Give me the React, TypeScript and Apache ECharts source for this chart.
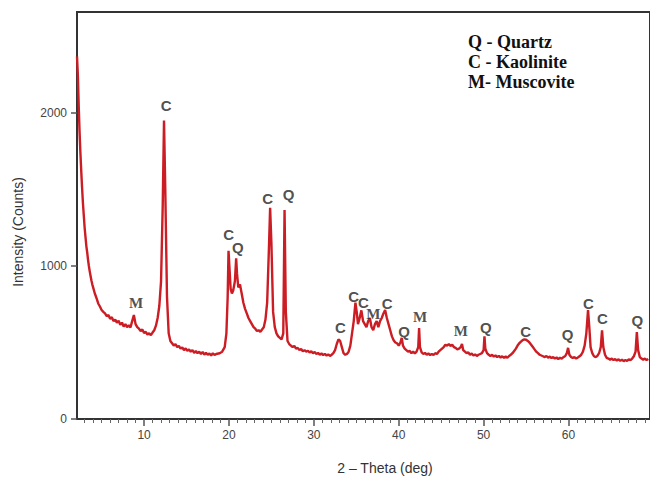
import React, { useEffect, useRef } from 'react';
import * as echarts from 'echarts';

// XRD pattern: [2-theta (deg), intensity (counts)]
const segLowAngle = [
  [2.1, 2370], [2.2, 2250], [2.3, 2050], [2.4, 1880], [2.5, 1740], [2.6, 1620], [2.7, 1510],
  [2.8, 1410], [2.9, 1330], [3.0, 1250], [3.1, 1190], [3.2, 1130], [3.3, 1090], [3.4, 1040],
  [3.5, 1000], [3.6, 965], [3.7, 935], [3.8, 905], [3.9, 880], [4.0, 860], [4.2, 820],
  [4.4, 790], [4.6, 755], [4.8, 735], [5.0, 712], [5.2, 700], [5.4, 690], [5.6, 672],
  [5.8, 680], [6.0, 655], [6.2, 665], [6.4, 640], [6.6, 650], [6.8, 630], [7.0, 642],
  [7.2, 615], [7.4, 630], [7.6, 605], [7.8, 620], [8.0, 600], [8.2, 612], [8.4, 598],
  [8.6, 640], [8.8, 680], [9.0, 620], [9.2, 600], [9.4, 590], [9.6, 575], [9.8, 585],
  [10.0, 562], [10.2, 570], [10.4, 552], [10.6, 560], [10.8, 548], [11.0, 565], [11.2, 580],
  [11.4, 610], [11.6, 660], [11.8, 740], [12.0, 900], [12.2, 1400], [12.35, 1950],
  [12.5, 1500], [12.7, 800], [12.9, 560],
];
const segMidAngle = [
  [13.1, 510], [13.3, 495], [13.5, 480], [13.7, 490], [13.9, 470], [14.1, 478], [14.3, 460],
  [14.5, 468], [14.7, 450], [14.9, 462], [15.1, 445], [15.3, 455], [15.5, 440], [15.7, 450],
  [15.9, 432], [16.1, 445], [16.3, 430], [16.5, 440], [16.7, 425], [16.9, 438], [17.1, 420],
  [17.3, 432], [17.5, 420], [17.7, 428], [17.9, 415], [18.1, 430], [18.3, 418], [18.5, 425],
  [18.9, 430], [19.2, 440], [19.5, 470], [19.7, 560], [19.85, 800], [19.95, 1100],
  [20.05, 1000], [20.2, 850], [20.35, 820], [20.5, 840], [20.7, 900], [20.85, 1050],
  [20.95, 950], [21.1, 860], [21.3, 880], [21.5, 820], [21.7, 760], [21.9, 720], [22.1, 690],
  [22.3, 660], [22.5, 640], [22.7, 620], [22.9, 600], [23.1, 590], [23.3, 575], [23.5, 580],
  [23.7, 570], [23.9, 585], [24.1, 600], [24.3, 650], [24.5, 760], [24.7, 1100],
  [24.85, 1380], [25.0, 1150], [25.2, 700], [25.4, 600], [25.6, 560], [25.8, 540],
  [26.0, 530], [26.2, 520], [26.4, 560], [26.55, 1366], [26.7, 700], [26.9, 510],
];
const segHighAngle = [
  [27.1, 490], [27.3, 480], [27.5, 470], [27.7, 478], [27.9, 460], [28.1, 465], [28.3, 450],
  [28.5, 458], [28.7, 442], [28.9, 450], [29.1, 440], [29.3, 446], [29.5, 435], [29.7, 442],
  [29.9, 430], [30.1, 438], [30.3, 425], [30.5, 432], [30.7, 420], [30.9, 428], [31.1, 418],
  [31.3, 425], [31.5, 415], [31.7, 422], [31.9, 412], [32.1, 420], [32.3, 430], [32.5, 450],
  [32.7, 490], [32.9, 520], [33.1, 510], [33.3, 470], [33.5, 430], [33.7, 420], [33.9, 425],
  [34.1, 440], [34.3, 480], [34.5, 560], [34.7, 640], [34.9, 760], [35.05, 700], [35.2, 620],
  [35.4, 660], [35.6, 710], [35.8, 640], [36.0, 620], [36.2, 600], [36.4, 640], [36.6, 660],
  [36.8, 600], [37.0, 580], [37.2, 620], [37.4, 640], [37.6, 600], [37.8, 640], [38.0, 660],
  [38.2, 690], [38.4, 712], [38.6, 660], [38.8, 620], [39.0, 580], [39.2, 540], [39.4, 515],
  [39.6, 500], [39.8, 495], [40.0, 480], [40.2, 500], [40.35, 530], [40.5, 480], [40.7, 460],
  [40.9, 450], [41.1, 440], [41.3, 445], [41.5, 430], [41.7, 440], [41.9, 428], [42.1, 440],
  [42.3, 470], [42.4, 595], [42.5, 470], [42.7, 435], [42.9, 425], [43.1, 432], [43.3, 420],
  [43.5, 428], [43.7, 418], [43.9, 425], [44.1, 418], [44.3, 430], [44.5, 425], [44.7, 440],
  [44.9, 450], [45.1, 460], [45.3, 470], [45.5, 485], [45.7, 480], [45.9, 490], [46.1, 478],
  [46.3, 485], [46.5, 470], [46.7, 465], [46.9, 455], [47.1, 460], [47.3, 470], [47.45, 490],
  [47.6, 450], [47.8, 440], [48.0, 430],
];
const segWideAngle = [
  [48.2, 435], [48.4, 420], [48.6, 428], [48.8, 415], [49.0, 422], [49.2, 412], [49.4, 420],
  [49.6, 425], [49.8, 430], [50.0, 450], [50.1, 540], [50.2, 460], [50.4, 430], [50.6, 420],
  [50.8, 412], [51.0, 420], [51.2, 408], [51.4, 415], [51.6, 405], [51.8, 412], [52.0, 402],
  [52.2, 410], [52.4, 400], [52.6, 408], [52.8, 400], [53.0, 412], [53.2, 420], [53.4, 430],
  [53.6, 445], [53.8, 460], [54.0, 480], [54.2, 495], [54.4, 505], [54.6, 515], [54.8, 520],
  [55.0, 518], [55.2, 510], [55.4, 500], [55.6, 485], [55.8, 470], [56.0, 455], [56.2, 440],
  [56.4, 430], [56.6, 420], [56.8, 415], [57.0, 410], [57.2, 405], [57.4, 412], [57.6, 400],
  [57.8, 408], [58.0, 398], [58.2, 405], [58.4, 395], [58.6, 402], [58.8, 392], [59.0, 400],
  [59.2, 395], [59.4, 405], [59.6, 410], [59.8, 430], [59.95, 465], [60.1, 420], [60.3, 405],
  [60.5, 398], [60.7, 405], [60.9, 395], [61.1, 402], [61.3, 410], [61.5, 420], [61.7, 440],
  [61.9, 480], [62.1, 560], [62.3, 712], [62.45, 600], [62.6, 470], [62.8, 430], [63.0, 410],
  [63.2, 405], [63.4, 412], [63.6, 430], [63.8, 470], [63.95, 580], [64.1, 470], [64.3, 420],
  [64.5, 400], [64.7, 395], [64.9, 388], [65.1, 395], [65.3, 385], [65.5, 392], [65.7, 382],
  [65.9, 390], [66.1, 380], [66.3, 388], [66.5, 378], [66.7, 385], [66.9, 380], [67.1, 390],
  [67.3, 385], [67.5, 395], [67.7, 410], [67.9, 440], [68.05, 568], [68.2, 450], [68.4, 405],
  [68.6, 395], [68.8, 388], [69.0, 395], [69.2, 385], [69.4, 392],
];

// Phase labels over peaks
const peakLabelTheta = [9.07, 12.59, 19.98, 21.04, 24.56, 27.02, 33.13, 34.7, 35.85, 37.0,
  38.64, 40.64, 42.52, 47.33, 50.26, 54.96, 59.89, 62.35, 64.0, 68.1];
const peakLabelCounts = [758, 2052, 1203, 1124, 1444, 1464, 601, 800, 760, 686,
  758, 575, 667, 575, 601, 575, 549, 758, 660, 647];
const peakLabelPhase = ['M', 'C', 'C', 'Q', 'C', 'Q', 'C', 'C', 'C', 'M',
  'C', 'Q', 'M', 'M', 'Q', 'C', 'Q', 'C', 'C', 'Q'];

const legendLines = ['Q - Quartz', 'C - Kaolinite', 'M- Muscovite'];
const xMajorTicks = [10, 20, 30, 40, 50, 60];
const xMinorTicks = [3, 4, 5, 6, 7, 8, 9, 11, 12, 13, 14, 15, 16, 17, 18, 19, 21, 22, 23, 24, 25,
  26, 27, 28, 29, 31, 32, 33, 34, 35, 36, 37, 38, 39, 41, 42, 43, 44, 45, 46, 47, 48, 49, 51, 52,
  53, 54, 55, 56, 57, 58, 59, 61, 62, 63, 64, 65, 66, 67, 68, 69];
const X_MIN = 2.1;
const X_MAX = 69.6;
const Y_MAX = 2660;

export default function App() {
  const ref = useRef<HTMLDivElement>(null);
  useEffect(() => {
    const chart = echarts.init(ref.current!, null, { renderer: 'svg' });
    const pattern = [...segLowAngle, ...segMidAngle, ...segHighAngle, ...segWideAngle];
    const labelData = peakLabelTheta.map((t, i) => ({
      value: [t, peakLabelCounts[i]],
      label: {
        formatter: peakLabelPhase[i],
        fontFamily: peakLabelPhase[i] === 'M' ? 'Liberation Serif' : 'Liberation Sans',
      },
    }));
    chart.setOption({
      animation: false,
      backgroundColor: '#ffffff',
      grid: {
        left: 77, right: -2, top: 12, bottom: 60, show: true,
        borderColor: '#333', borderWidth: 2, backgroundColor: 'transparent',
      },
      xAxis: [
        {
          type: 'value', min: X_MIN, max: X_MAX, position: 'bottom',
          axisLine: { show: true, lineStyle: { color: '#333', width: 2 } },
          axisTick: { show: true, customValues: xMajorTicks, length: 7, lineStyle: { color: '#555', width: 1.5 } },
          axisLabel: { customValues: xMajorTicks, color: '#444', fontSize: 12, fontFamily: 'Liberation Sans', margin: 10 },
          splitLine: { show: false },
        },
        {
          type: 'value', min: X_MIN, max: X_MAX, position: 'bottom',
          axisLine: { show: false },
          axisTick: { show: true, customValues: xMinorTicks, length: 4, lineStyle: { color: '#666', width: 1 } },
          axisLabel: { show: false },
          splitLine: { show: false },
        },
      ],
      yAxis: {
        type: 'value', min: 0, max: Y_MAX, interval: 1000,
        axisLine: { show: true, lineStyle: { color: '#333', width: 2 } },
        axisTick: { show: true, length: 6, lineStyle: { color: '#555', width: 1.5 } },
        axisLabel: {
          color: '#444', fontSize: 12, fontFamily: 'Liberation Sans', margin: 10, showMaxLabel: false,
          formatter: (v: number) => String(v),
        },
        splitLine: { show: false },
      },
      series: [
        {
          type: 'line', data: pattern, showSymbol: false, symbol: 'none',
          lineStyle: { color: '#cc1c24', width: 2.4 }, z: 2, silent: true,
        },
        {
          type: 'scatter', data: labelData, symbolSize: 0, silent: true, z: 3,
          label: {
            show: true, position: 'inside', color: '#222', fontSize: 15, fontWeight: 'bold',
          },
        },
      ],
      graphic: [
        ...legendLines.map((s, i) => ({
          type: 'text', left: 468, top: 33 + i * 20,
          style: { text: s, fill: '#111', font: 'bold 18px "Liberation Serif"' },
        })),
        {
          type: 'text', x: 18, y: 232, rotation: Math.PI / 2,
          style: { text: 'Intensity (Counts)', fill: '#333', font: '14px "Liberation Sans"', textAlign: 'center', textVerticalAlign: 'middle' },
        },
        {
          type: 'text', x: 385, y: 468,
          style: { text: '2 – Theta (deg)', fill: '#333', font: '14px "Liberation Sans"', textAlign: 'center', textVerticalAlign: 'middle' },
        },
      ],
    });
    return () => chart.dispose();
  }, []);
  return <div ref={ref} style={{ position: 'fixed', left: 0, top: 0, width: 650, height: 479, background: '#fff' }} />;
}
